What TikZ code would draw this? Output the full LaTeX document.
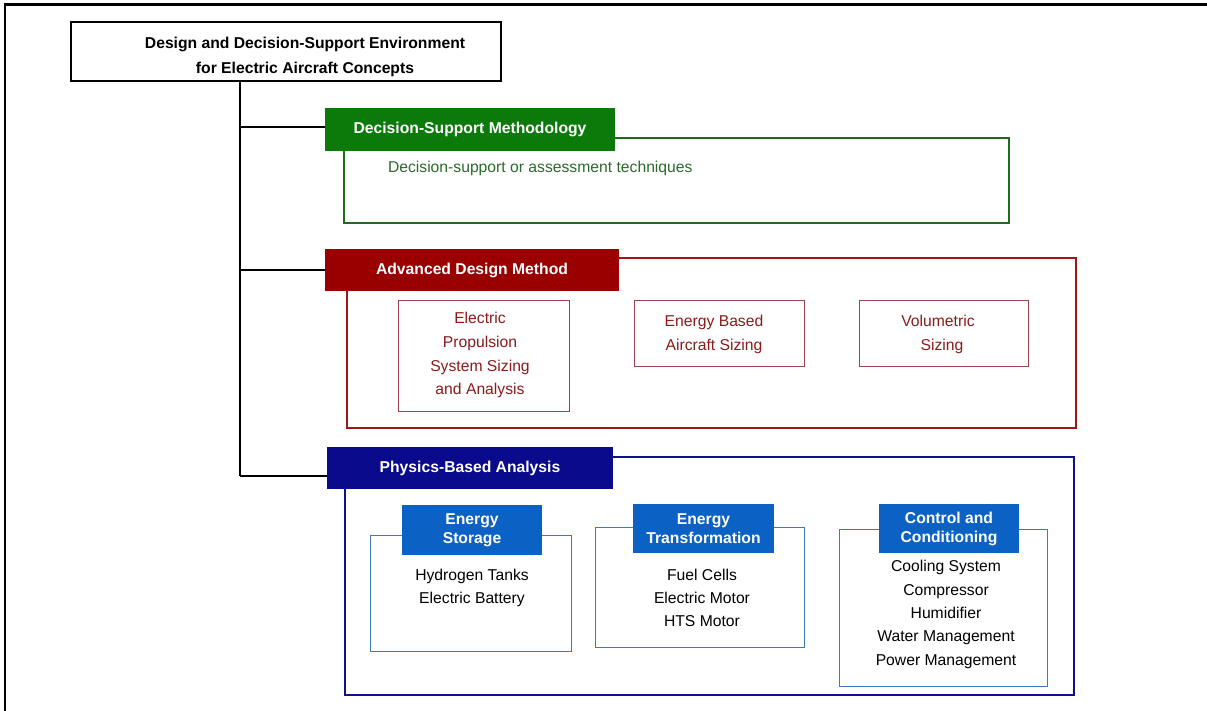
\documentclass[tikz,border=0pt]{standalone}
\usepackage{fontspec}
\setmainfont{Liberation Sans}
\definecolor{gHead}{HTML}{0B7A0B}
\definecolor{gLine}{HTML}{1F6B1F}
\definecolor{gText}{HTML}{2A6A2A}
\definecolor{rHead}{HTML}{990000}
\definecolor{rLine}{HTML}{A01515}
\definecolor{rInner}{HTML}{A04050}
\definecolor{rText}{HTML}{8B1A1A}
\definecolor{bHead}{HTML}{0A0A8C}
\definecolor{bLine}{HTML}{10108A}
\definecolor{sHead}{HTML}{0B62C4}
\definecolor{sLine}{HTML}{3A7AC0}
\begin{document}
\begin{tikzpicture}[x=1pt,y=-1pt,
  every node/.style={inner sep=0pt, outer sep=0pt},
  frame/.style={line width=2.5pt, black},
  topbox/.style={draw=black, line width=2pt, anchor=north west},
  toptext/.style={anchor=north, align=center,
     font=\bfseries\fontsize{15.7}{25}\selectfont},
  wire/.style={line width=2pt, black},
  hdr/.style={anchor=north west, align=center, text=white,
     font=\bfseries\fontsize{15.7}{19}\selectfont},
  bigbox/.style={draw, line width=2pt, anchor=north west},
  innerbox/.style={draw=rInner, line width=1pt, anchor=north west},
  innertext/.style={anchor=north, align=center, text=rText,
     font=\fontsize{15.7}{23.7}\selectfont},
  subbox/.style={draw=sLine, line width=1pt, anchor=north west},
  subhdr/.style={fill=sHead, anchor=north west, align=center, text=white,
     font=\bfseries\fontsize{15.7}{19}\selectfont},
  items/.style={anchor=north, align=center, text=black,
     font=\fontsize{15.7}{23.3}\selectfont}
]
\useasboundingbox (0,0) rectangle (1207,711);
% outer frame
\draw[frame] (5,711) -- (5,4.5) -- (1207,4.5);

% top box
\node[topbox, minimum width=430, minimum height=59] (top) at (71,22) {};
\node[toptext] (toptxt) at (305,37.5)
  {Design and Decision-Support Environment\\for Electric Aircraft Concepts};

% green section
\node[bigbox, draw=gLine, minimum width=665, minimum height=85] (gbox) at (344,138) {};
\node[hdr, fill=gHead, minimum width=290, minimum height=43] (ghdr) at (325,108)
  {Decision-Support Methodology};
\node[anchor=base west, text=gText, font=\fontsize{15.7}{19}\selectfont] (gtxt) at (388,173)
  {Decision-support or assessment techniques};

% red section
\node[bigbox, draw=rLine, minimum width=729, minimum height=170] (rbox) at (347,258) {};
\node[hdr, fill=rHead, minimum width=294, minimum height=42] (rhdr) at (325,249)
  {Advanced Design Method};
\node[innerbox, minimum width=171, minimum height=111] (r1) at (398,300) {};
\node[innertext] (r1t) at (480,312.5) {Electric\\Propulsion\\System Sizing\\and Analysis};
\node[innerbox, minimum width=170, minimum height=66] (r2) at (634,300) {};
\node[innertext] (r2t) at (714,315.5) {Energy Based\\Aircraft Sizing};
\node[innerbox, minimum width=169, minimum height=66] (r3) at (859,300) {};
\node[innertext] (r3t) at (938,315.5) {Volumetric\\\hspace*{8pt}Sizing};

% blue section
\node[bigbox, draw=bLine, minimum width=729, minimum height=238] (bbox) at (345,457) {};
\node[hdr, fill=bHead, minimum width=286, minimum height=42] (bhdr) at (327,447)
  {Physics-Based Analysis};

\node[subbox, minimum width=201, minimum height=116] (s1) at (370,535) {};
\node[subhdr, minimum width=140, minimum height=50] (s1h) at (402,505) {Energy\\Storage};
\node[items] (s1t) at (472,568.7) {Hydrogen Tanks\\Electric Battery};

\node[subbox, minimum width=209, minimum height=120] (s2) at (595,527) {};
\node[subhdr, minimum width=141, minimum height=49] (s2h) at (633,504) {Energy\\Transformation};
\node[items] (s2t) at (702,568.7) {Fuel Cells\\Electric Motor\\HTS Motor};

\node[subbox, minimum width=208, minimum height=157] (s3) at (839,529) {};
\node[subhdr, minimum width=140, minimum height=49] (s3h) at (879,504) {Control and\\Conditioning};
\node[items] (s3t) at (946,560.5) {Cooling System\\Compressor\\Humidifier\\Water Management\\Power Management};

% connectors
\coordinate (trunkend) at (240,476);
\draw[wire] (top.south -| trunkend) -- (trunkend);
\draw[wire] (trunkend |- 0,127.5) -- (ghdr.west |- 0,127.5);
\draw[wire] (rhdr.west -| trunkend) -- (rhdr.west);
\draw[wire] (trunkend) -- (trunkend -| bhdr.west);
\end{tikzpicture}
\end{document}
